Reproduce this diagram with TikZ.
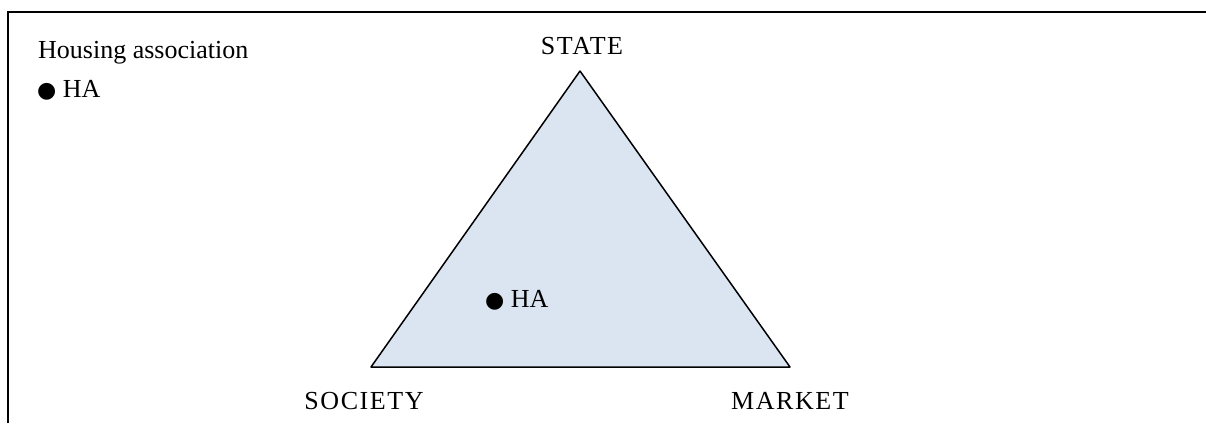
\documentclass[tikz,border=0pt]{standalone}
\usepackage{fontspec}
\setmainfont{Liberation Serif}
\newfontfamily\capsfont[LetterSpace=6]{Liberation Serif}
\newfontfamily\symfont{DejaVu Sans}
\definecolor{trifill}{RGB}{219,229,241}
\newcommand{\bul}{{\symfont\fontsize{22}{24}\selectfont ●}}
\begin{document}
\begin{tikzpicture}[x=1pt,y=-1pt,
  lbl/.style={inner sep=0pt,font=\fontsize{26}{30}\selectfont},
  caplbl/.style={inner sep=0pt,anchor=base,font=\capsfont\fontsize{26}{30}\selectfont},
  edge/.style={line width=1.5pt,line join=round}]
\useasboundingbox (0,0) rectangle (1206,423);
% frame
\draw[line width=2.5pt] (8,423) -- (8,12) -- (1206,12);
% triangle
\coordinate (apex) at (580,71);
\coordinate (bl) at (371,367);
\coordinate (br) at (790,367);
\draw[edge,fill=trifill] (apex) -- (bl) -- (br) -- cycle;
% labels
\node[caplbl] (state) at (582,54) {STATE};
\node[caplbl] (society) at (364,409) {SOCIETY};
\node[caplbl] (market) at (790,409) {MARKET};
\node[lbl,anchor=base west] (legend) at (38,58) {Housing association};
\node[lbl,anchor=base west] (legendha) at (37,97) {\bul{} HA};
\node[lbl,anchor=base west] (ha) at (485,307) {\bul{} HA};
\end{tikzpicture}
\end{document}
